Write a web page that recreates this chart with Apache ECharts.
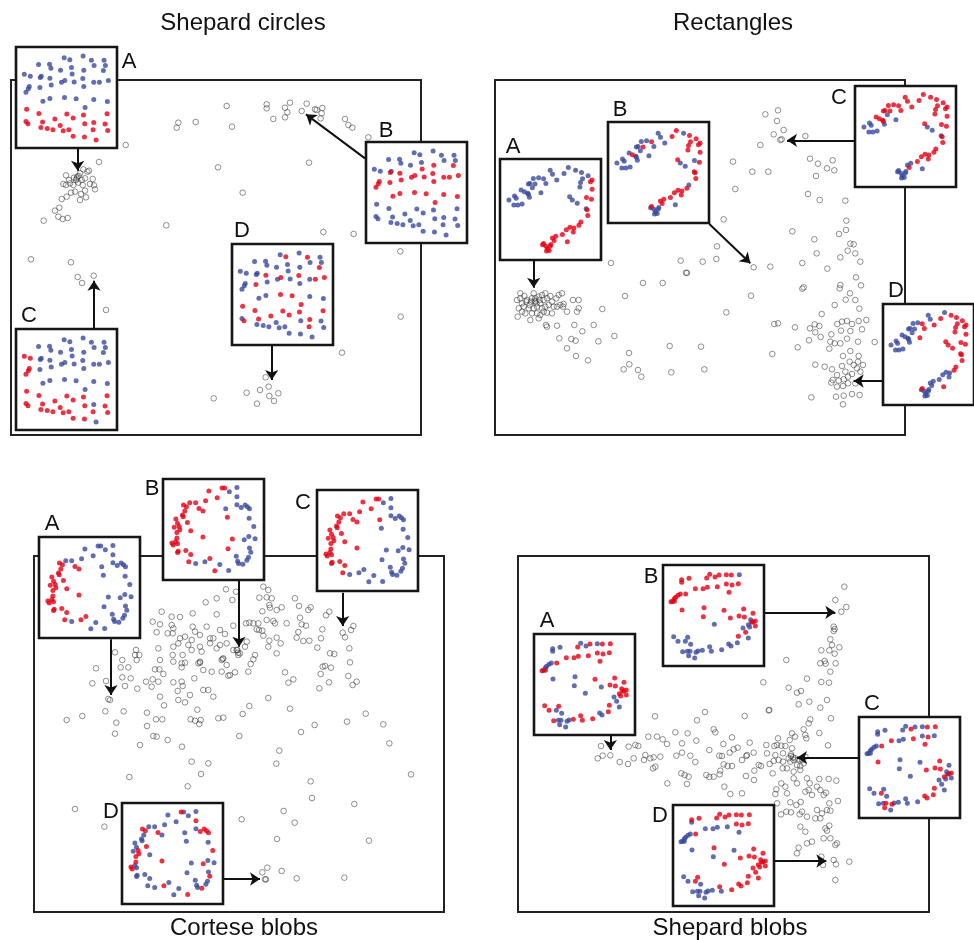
<!DOCTYPE html>
<html>
<head>
<meta charset="utf-8">
<script src="https://cdn.jsdelivr.net/npm/echarts@6/dist/echarts.min.js"></script>
<style>html,body{margin:0;padding:0;background:#fff}#chart{width:974px;height:940px}</style>
</head>
<body>
<div id="chart"></div>
<script>
// ---------------- DATA ----------------
const panelTitles = ['Shepard circles', 'Rectangles', 'Cortese blobs', 'Shepard blobs'];
const insetLetters = ['A', 'B', 'C', 'D'];

// ---- Shepard circles ----
const circlesGray = [[680,318],[800,313],[800,325],[855,323],[870,308],[862,337],[855,352],[820,357],[920,311],[905,333],[945,328],[950,330],[967,324],[965,340],[962,355],[1035,357],[1045,375],[1057,383],[1105,412],[535,368],[530,383],[587,366],[696,380],[377,435],[297,486],[654,502],[927,488],[728,578],[499,676],[970,696],[1061,702],[1201,754],[1202,950],[1026,1058],[93,778],[213,787],[233,831],[246,849],[281,827],[318,930],[131,662],[641,1195],[740,1178],[780,1170],[806,1160],[835,1180],[808,1188],[822,1203],[771,1211],[797,1132],[198,526],[190,552],[207,540],[222,533],[232,530],[240,520],[250,508],[262,515],[267,512],[255,535],[248,555],[235,548],[220,555],[213,578],[225,575],[243,582],[255,572],[240,600],[258,592],[270,552],[278,537],[282,556],[285,568],[200,590],[185,597],[165,632],[178,623],[175,650],[188,657],[203,654],[210,550],[228,540],[245,540],[198,555],[236,528],[230,536]];
const circlesArrows = [[[233,445],[233,512]],[[1095,475],[918,343]],[[282,985],[282,842]],[[815,1035],[815,1140]]];
const circlesBase = [[150,37],[167,43],[207,32],[232,45],[270,45],[240,61],[274,61],[73,58],[106,57],[110,69],[139,75],[172,67],[209,75],[268,76],[174,86],[78,97],[81,93],[107,99],[152,106],[142,111],[180,110],[206,100],[239,111],[256,111],[283,106],[77,127],[111,119],[209,124],[151,157],[186,161],[239,163],[280,169],[86,168],[107,160],[213,187],[239,232],[246,285],[30,87],[48,93],[45,124],[42,131],[35,141],[37,192],[74,205],[158,207],[177,219],[208,210],[279,206],[122,222],[85,231],[35,229],[41,236],[138,241],[80,247],[99,250],[116,254],[147,257],[164,254],[212,236],[273,237],[237,254],[281,256],[177,274],[211,276]];
const circlesColorA = "bbbbbbbbbb bbbbbbbbbb bbbbbbbbbb bbbbbrrbbb bbrrrrrrrr rrrrrrrrrr rrrr";
const circlesColorB = "bbbbbbbbbb bbrrrrbrrr rrrrrrrrrr rrrrrbbbbr rrbbbbbbbb bbbbbbbbbb bbbb";
const circlesColorC = "bbbbbbbbbb bbbbbbbbbb bbbbbbbbbb bbbbbbbrrr rrrrrrrrrr rrrrrrrrrr rrrr";
const circlesColorD = "brbrbbbbbb bbbrbbbrrb brbrrrbbrr bbbbrrbbbb bbrrrrrrrr brbbbbbbbb rbbb";

// ---- Rectangles ----
const rectGray = [[835,343],[873,331],[870,363],[890,390],[860,403],[880,420],[884,418],[955,408],[820,435],[738,485],[796,515],[844,515],[969,476],[993,491],[1020,505],[1037,481],[1042,511],[987,528],[745,567],[963,582],[998,600],[1075,602],[710,658],[916,694],[982,718],[1078,662],[1077,690],[1056,702],[1090,731],[1100,733],[1082,752],[1060,772],[1105,760],[1120,785],[690,739],[581,782],[647,785],[688,777],[597,818],[600,819],[800,802],[850,800],[946,789],[989,760],[1021,806],[372,789],[468,849],[527,849],[414,888],[792,887],[950,862],[946,866],[1060,855],[1058,865],[1107,832],[1122,856],[1089,880],[1105,900],[1076,899],[1043,915],[1117,926],[346,927],[718,937],[1004,942],[862,972],[873,970],[924,982],[969,985],[983,973],[997,978],[985,997],[1001,1011],[966,1021],[1033,1003],[1051,972],[1065,965],[1080,963],[1095,972],[1115,963],[1138,960],[1062,992],[1090,993],[1125,988],[1030,1025],[1043,1030],[1060,1030],[1080,1016],[1113,1025],[1163,1026],[1027,1046],[1068,1068],[1090,1053],[1115,1068],[932,1042],[856,1062],[985,1094],[1013,1100],[1035,1108],[1050,1125],[1065,1098],[1075,1115],[1088,1085],[1100,1095],[1110,1105],[1120,1115],[1128,1095],[1113,1085],[1037,1140],[1055,1142],[1070,1138],[1083,1130],[1095,1122],[1083,1150],[1068,1158],[1050,1160],[1033,1148],[1047,1190],[1070,1187],[1095,1182],[1118,1185],[1068,1213],[973,1192],[1105,1150],[548,1038],[642,1040],[426,1059],[410,1108],[427,1093],[453,1110],[463,1130],[553,1117],[652,1108],[382,1008],[334,1024],[320,975],[286,994],[262,975],[217,1015],[253,1017],[266,1022],[240,1045],[267,1068],[303,1081],[210,977],[177,975],[180,980],[90,900],[100,895],[105,910],[112,888],[120,900],[128,915],[135,895],[140,880],[145,905],[150,920],[155,890],[160,910],[165,885],[170,900],[175,880],[180,895],[185,915],[190,888],[195,905],[200,920],[208,895],[215,885],[220,915],[228,920],[225,880],[95,925],[105,935],[115,940],[125,925],[135,940],[150,940],[160,945],[170,935],[180,938],[130,960],[155,955],[92,950],[110,920],[140,925],[165,925],[145,895],[118,905],[132,905],[158,900],[100,880],[175,920],[195,940],[240,935],[258,900],[275,900],[270,935],[275,925],[210,920],[230,912],[148,910],[143,902]];
const rectArrows = [[[140,780],[140,863]],[[667,672],[790,790]],[[1104,421],[900,421]],[[1188,1143],[1100,1143]]];
const rectBase = [[158,40],[165,52],[213,32],[200,50],[235,40],[253,47],[273,57],[256,66],[285,70],[280,75],[250,77],[248,91],[285,98],[178,70],[145,80],[138,66],[123,63],[107,65],[112,82],[97,80],[92,82],[70,100],[80,105],[90,110],[92,113],[217,120],[268,123],[283,128],[270,160],[272,177],[245,207],[251,197],[230,215],[218,213],[207,220],[195,235],[228,227],[170,253],[104,93],[130,108],[95,122],[33,130],[50,118],[55,125],[48,145],[60,145],[73,142],[225,130],[240,140],[267,157],[165,245],[175,240],[138,262],[135,266],[145,270],[150,278],[155,283],[158,270],[147,285],[210,257],[160,265]];
const rectColorA = "bbbbbbbbrr bbrbbbbbbb bbbbbbrrrr rrrrrrrrbb bbbbbbbbbb rrrrrrrrrr r";
const rectColorB = "bbrrbrrrrr rrrbbrbbrb bbrbbrbrrr rbrrrrrrbb bbbbbbbbbr rrrbbbbbbb b";
const rectColorC = "rrrrrrrrrr rrrrrrrrrr rrrrrrrrrr rrrrrrrrbb bbbbbbbbbb bbbbbbbbbb b";
const rectColorD = "bbbrrrrrrr rrrrrrbbbb bbbbbrrrrr rrbbbbbbbr bbbbbbbrrr bbrbbbbbbr b";

// ---- Cortese blobs ----
const corteseGray = [[678,358],[708,365],[650,385],[697,390],[617,397],[650,433],[578,430],[540,441],[515,440],[485,425],[458,455],[470,487],[480,463],[503,490],[515,465],[520,475],[518,490],[540,505],[535,520],[555,500],[578,470],[585,485],[575,510],[600,495],[620,470],[630,505],[640,505],[660,480],[675,492],[700,467],[680,520],[660,525],[650,535],[630,520],[600,530],[605,545],[575,540],[565,525],[548,555],[520,530],[518,555],[520,575],[545,580],[555,578],[600,575],[595,580],[635,605],[610,600],[665,570],[670,565],[680,585],[665,605],[690,615],[685,617],[705,607],[700,540],[710,540],[715,555],[720,550],[735,530],[740,515],[745,605],[752,582],[765,555],[760,568],[738,460],[748,458],[760,460],[775,460],[770,478],[777,480],[787,482],[778,383],[790,350],[805,360],[800,382],[815,385],[808,405],[810,413],[787,424],[830,420],[820,453],[825,460],[800,450],[790,497],[808,512],[805,530],[830,503],[842,520],[830,550],[845,412],[860,460],[885,385],[897,408],[925,420],[932,412],[900,443],[905,463],[918,467],[895,486],[890,503],[910,513],[928,512],[963,505],[952,533],[967,478],[978,436],[988,425],[990,550],[1003,552],[1028,488],[1035,502],[1053,480],[1060,468],[1048,535],[1050,577],[1045,618],[1070,635],[1058,645],[993,593],[975,588],[968,590],[962,612],[987,637],[958,655],[855,607],[865,638],[880,628],[345,547],[408,540],[405,555],[410,570],[418,555],[367,570],[362,592],[385,592],[288,595],[277,640],[318,633],[367,622],[392,625],[375,648],[412,656],[438,635],[458,628],[455,650],[475,635],[465,598],[478,598],[490,612],[480,570],[475,535],[330,690],[325,687],[200,750],[247,738],[316,724],[349,758],[371,724],[345,791],[441,728],[468,748],[487,748],[441,768],[460,798],[470,800],[420,825],[503,810],[492,706],[480,680],[535,690],[555,697],[545,635],[548,648],[570,675],[533,663],[520,637],[583,625],[610,660],[625,660],[640,680],[592,719],[572,748],[585,752],[598,762],[602,750],[655,745],[670,743],[728,732],[748,708],[718,798],[805,684],[870,716],[903,786],[944,765],[1041,755],[1097,731],[1150,763],[1168,820],[1233,913],[838,842],[829,881],[932,934],[936,984],[1063,1002],[851,1023],[884,1058],[831,1107],[1107,1112],[725,1048],[625,880],[575,875],[603,912],[563,949],[546,830],[388,921],[225,1017],[313,1070],[787,1207],[802,1193],[845,1203],[890,1225],[1033,1223],[795,1228],[798,1228],[712,540],[714,548],[600,578],[545,592],[668,567]];
const corteseArrows = [[[333,508],[333,675]],[[717,333],[717,530]],[[1028,368],[1028,468]],[[672,1227],[780,1227]]];
const corteseBase = [[145,42],[185,33],[193,33],[170,63],[135,72],[105,78],[87,78],[68,85],[77,90],[115,95],[127,103],[72,103],[65,115],[67,120],[45,127],[50,140],[80,138],[40,152],[55,150],[57,160],[48,168],[90,163],[48,185],[45,195],[33,200],[37,206],[50,202],[127,182],[201,122],[216,188],[203,217],[75,223],[52,225],[50,229],[90,235],[148,247],[84,257],[163,284],[230,32],[207,45],[230,60],[230,84],[243,92],[255,85],[262,90],[268,96],[196,96],[267,125],[281,150],[266,180],[252,190],[285,187],[268,215],[272,228],[228,240],[265,243],[260,252],[232,255],[235,262],[248,264],[178,265],[205,283],[133,257],[105,262]];
const corteseColorA = "bbbbbbbrrr rrrrrrrrrr rrrrrrrrbb brrrrrrbbb bbbbbbbbbb bbbbbbbbbb bbrb";
const corteseColorB = "rrrrrrrrrr rrrrrrrrrr rrrrrrrrrr rrrrrrrrbb bbbbbbbbbb bbbbbbbbbb bbbb";
const corteseColorC = "rrrrrrrrrr rrrrrrrrrr rrrrrrrrbb brrrrbrbbb bbbbbbrbbb bbbbbbbbbb bbbb";
const corteseColorD = "brbbbbbrrr bbbbbbrbrr rbrbrrbrbb bbbbbbbbbb rbrrrrbbrb rbbrbbbbbr brrb";

// ---- Shepard blobs ----
const blobsGray = [[1072,350],[1045,390],[1063,425],[1078,411],[1040,470],[1043,477],[1040,483],[1030,508],[1035,525],[1057,532],[1003,541],[1027,541],[1043,551],[1000,580],[1013,573],[1016,581],[1046,580],[1030,605],[898,570],[1003,636],[1026,638],[960,626],[905,653],[930,668],[942,663],[1020,690],[935,703],[967,695],[1000,713],[1032,745],[970,748],[965,760],[950,778],[997,789],[955,795],[958,805],[924,800],[1023,826],[829,637],[845,721],[773,738],[847,720],[504,739],[630,751],[654,726],[680,778],[685,787],[735,802],[709,822],[752,833],[740,838],[728,848],[788,818],[778,858],[765,870],[780,855],[800,848],[815,885],[822,888],[838,825],[840,850],[862,828],[865,855],[870,825],[873,805],[883,827],[888,850],[895,828],[908,810],[915,790],[912,853],[920,870],[910,875],[915,835],[925,865],[935,868],[945,870],[930,885],[940,888],[950,880],[955,860],[900,895],[888,875],[875,870],[860,873],[848,882],[857,910],[887,895],[920,905],[940,900],[610,857],[585,848],[568,857],[540,822],[527,808],[510,800],[484,800],[520,860],[500,862],[490,865],[475,855],[471,870],[498,895],[505,890],[445,825],[454,828],[425,830],[440,865],[423,882],[398,876],[370,856],[347,857],[342,828],[332,865],[625,876],[583,910],[593,915],[605,920],[600,942],[541,940],[658,915],[667,921],[680,920],[700,902],[698,913],[712,950],[730,972],[765,970],[777,918],[801,930],[802,902],[735,888],[722,888],[705,858],[697,857],[667,840],[710,883],[628,812],[602,790],[565,787],[585,820],[883,940],[895,950],[868,958],[865,972],[900,970],[920,925],[930,940],[960,925],[968,940],[965,960],[955,965],[975,975],[990,950],[1000,960],[1010,975],[1017,968],[997,927],[1025,927],[1048,932],[1053,993],[1027,1000],[1020,1020],[1030,1022],[990,1020],[1005,1030],[985,1045],[960,1040],[945,1025],[938,1033],[912,1027],[882,1033],[941,996],[910,997],[940,1070],[955,1085],[960,1120],[975,1115],[1000,1045],[1010,1105],[1015,1075],[1020,1082],[1027,1067],[1030,1105],[1045,1125],[1050,1120],[1040,1170],[1047,1183],[1045,1230],[1087,1175],[1003,1160],[1008,1185],[935,1133],[930,1150],[928,1005],[898,1025],[870,1000],[912,858],[918,862],[905,865]];
const blobsArrows = [[[370,795],[370,840]],[[832,427],[1045,427]],[[1118,863],[930,863]],[[862,1173],[1018,1173]]];
const blobsBase = [[62,50],[62,58],[84,46],[137,45],[146,34],[162,42],[174,36],[196,35],[211,36],[103,77],[126,77],[139,73],[169,71],[196,63],[213,66],[232,62],[204,88],[58,93],[51,97],[44,103],[40,107],[35,115],[30,116],[40,115],[74,93],[63,141],[129,134],[127,161],[189,142],[208,165],[248,138],[276,151],[234,159],[250,162],[283,174],[276,176],[283,189],[272,178],[254,208],[232,220],[235,35],[160,184],[38,221],[51,235],[73,235],[80,223],[89,244],[65,266],[79,265],[87,265],[105,268],[111,264],[124,262],[83,278],[101,285],[146,251],[151,265],[182,260],[203,243],[210,249],[229,239],[262,225],[246,195],[262,185],[266,192],[269,170]];
const blobsColorA = "bbbrbbrbrr rrrrrrrbbb bbrrrbbbrb rrrrrrrrbr rbrrbrbrbb bbrbbrrrbb rbbrrr";
const blobsColorB = "rrrrrrrrrr rrrrrrrrrr rrrrrrrrrr rrrrrrrrrr bbbbbbbbbb bbbbbbbbbb bbbbbb";
const blobsColorC = "bbbbbrbbrr bbrbrbrbbb bbbbrrbbbr rbrrrrbbbr rbbbrbbbbr rbbrbbbbrr rbbrbb";
const blobsColorD = "rbrrrrrrrb bbbrrrbbbb bbbbrbrbbr rrrrrrrrrr rrbbrrbbbb bbbbbrbrrr rrrrrr";

// ---------------- LAYOUT / STYLE ----------------
const FONT = '"Liberation Sans", Arial, Helvetica, sans-serif';
const RED = '#e60014';
const BLUE = '#3a4a9e';
const INSET = 101;
const panels = [
  {title: panelTitles[0], titlePos: [243, 23], main: [11, 80, 410, 355], mx: [33, 1263], my: [240, 1305],
   gray: circlesGray, arrows: circlesArrows, base: circlesBase, br: [5, 309],
   colors: [circlesColorA, circlesColorB, circlesColorC, circlesColorD],
   boxes: [[16, 47], [366, 142], [16, 329], [232, 244]], labels: [[129, 62], [386, 131], [29, 316], [242, 231]]},
  {title: panelTitles[1], titlePos: [733, 23], main: [495, 80, 410, 355], mx: [24, 1254], my: [240, 1305],
   gray: rectGray, arrows: rectArrows, base: rectBase, br: [6, 312],
   colors: [rectColorA, rectColorB, rectColorC, rectColorD],
   boxes: [[500, 159], [608, 122], [855, 86], [883, 304]], labels: [[513, 147], [620, 110], [839, 98], [896, 291]]},
  {title: panelTitles[2], titlePos: [244, 928], main: [34, 556, 410, 356], mx: [102, 1332], my: [258, 1326],
   gray: corteseGray, arrows: corteseArrows, base: corteseBase, br: [6, 312],
   colors: [corteseColorA, corteseColorB, corteseColorC, corteseColorD],
   boxes: [[39, 537], [163, 479], [317, 490], [122, 803]], labels: [[52, 524], [152, 489], [303, 503], [111, 812]]},
  {title: panelTitles[3], titlePos: [730, 928], main: [518, 556, 411, 356], mx: [93, 1326], my: [258, 1326],
   gray: blobsGray, arrows: blobsArrows, base: blobsBase, br: [6, 309],
   colors: [blobsColorA, blobsColorB, blobsColorC, blobsColorD],
   boxes: [[534, 634], [663, 565], [859, 717], [673, 805]], labels: [[547, 621], [651, 577], [872, 704], [660, 816]]}
];

// ---------------- BUILD ----------------
const option = {animation: false, backgroundColor: '#fff', grid: [], xAxis: [], yAxis: [], series: [], graphic: []};

function addGrid(rect, xr, yr, inset) {
  const i = option.grid.length;
  option.grid.push({
    left: rect[0], top: rect[1], width: rect[2], height: rect[3], show: true, z: inset ? 1 : 0,
    backgroundColor: inset ? '#fff' : 'transparent',
    borderColor: inset ? '#151515' : '#222', borderWidth: inset ? 2.6 : 2
  });
  option.xAxis.push({gridIndex: i, type: 'value', min: xr[0], max: xr[1], show: false});
  option.yAxis.push({gridIndex: i, type: 'value', min: yr[0], max: yr[1], inverse: true, show: false});
  return i;
}

panels.forEach(p => {
  const g = addGrid(p.main, p.mx, p.my, false);
  option.series.push({
    type: 'scatter', xAxisIndex: g, yAxisIndex: g, data: p.gray, symbol: 'circle', symbolSize: 5.6,
    itemStyle: {color: 'rgba(255,255,255,0)', borderColor: 'rgba(50,50,50,0.8)', borderWidth: 0.85}, silent: true
  });
  option.series.push({
    type: 'lines', coordinateSystem: 'cartesian2d', xAxisIndex: g, yAxisIndex: g, z: 3,
    symbol: ['none', 'arrow'], symbolSize: 10,
    lineStyle: {color: '#111', width: 2, opacity: 1},
    data: p.arrows.map(a => ({coords: a}))
  });
  p.boxes.forEach((b, k) => {
    const gi = addGrid([b[0], b[1], INSET, INSET], p.br, p.br, true);
    const cols = p.colors[k].replace(/\s/g, '');
    const red = [], blue = [];
    p.base.forEach((pt, j) => (cols[j] === 'r' ? red : blue).push(pt));
    [[blue, BLUE], [red, RED]].forEach(([d, c]) => option.series.push({
      type: 'scatter', xAxisIndex: gi, yAxisIndex: gi, data: d, symbol: 'circle', symbolSize: 5, z: 4,
      itemStyle: {color: c}, silent: true
    }));
    option.graphic.push({type: 'text', z: 10, style: {
      text: insetLetters[k], x: p.labels[k][0], y: p.labels[k][1], font: '22px ' + FONT,
      fill: '#111', align: 'center', verticalAlign: 'middle'}});
  });
  option.graphic.push({type: 'text', z: 10, style: {
    text: p.title, x: p.titlePos[0], y: p.titlePos[1], font: '24px ' + FONT,
    fill: '#111', align: 'center', verticalAlign: 'middle'}});
});

const chart = echarts.init(document.getElementById('chart'), null, {renderer: 'canvas'});
chart.setOption(option);
</script>
</body>
</html>
